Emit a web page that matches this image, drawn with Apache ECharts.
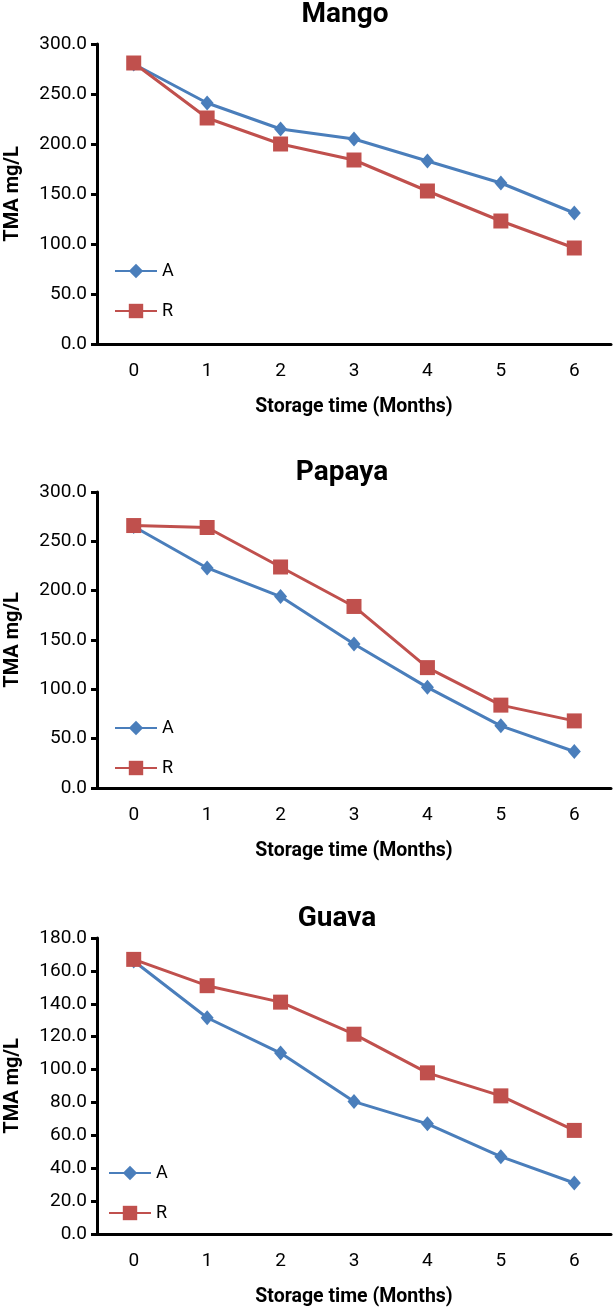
<!DOCTYPE html>
<html><head><meta charset="utf-8">
<script src="https://cdn.jsdelivr.net/npm/echarts@6/dist/echarts.min.js"></script>
<style>html,body{margin:0;padding:0;background:#fff}#c{width:614px;height:1309px}</style>
</head><body><div id="c"></div>
<script>
// ---- data ----
const months = ['0', '1', '2', '3', '4', '5', '6'];
const titles = ['Mango', 'Papaya', 'Guava'];
const seriesNames = ['A', 'R'];
const mangoA = [280, 241, 215, 205, 183, 161, 131];
const mangoR = [281, 226, 200, 184, 153, 123, 96];
const papayaA = [265, 223, 194, 146, 102, 63, 37];
const papayaR = [266, 264, 224, 184, 122, 84, 68];
const guavaA = [166, 131.5, 110, 80.5, 67, 47, 31];
const guavaR = [167, 151, 141, 121.5, 98, 84, 63];
const yMax = [300, 300, 180];
const yInterval = [50, 50, 20];
const xAxisName = 'Storage time (Months)';
const yAxisName = 'TMA mg/L';
const panels = [[mangoA, mangoR], [papayaA, papayaR], [guavaA, guavaR]];

// ---- layout ----
const gridTops = [44, 492, 938];
const gridHeights = [300, 296, 296];
const titleTops = [1, 459, 905];
const titleLefts = [345, 342, 337];
const legendTops = [262, 719, 1164];
const legendLefts = [114, 114, 108];
const FONT = 'Roboto, "Noto Sans", sans-serif';
const colA = '#4a7ebb', colR = '#c0504d';

const option = {
  backgroundColor: '#fff',
  animation: false,
  title: titles.map((t, i) => ({
    text: t, left: titleLefts[i], top: titleTops[i], textAlign: 'center', padding: 0,
    textStyle: { fontFamily: FONT, fontWeight: 'bold', fontSize: 28, lineHeight: 28, color: '#000' }
  })),
  legend: titles.map((t, i) => ({
    data: seriesNames, orient: 'vertical', left: legendLefts[i], top: legendTops[i],
    itemWidth: 42, itemHeight: 18, itemGap: 22, padding: 0,
    textStyle: { fontFamily: FONT, fontSize: 18, color: '#000' },
    selectedMode: false
  })),
  grid: titles.map((t, i) => ({
    left: 97, right: 3, top: gridTops[i], height: gridHeights[i],
    containLabel: false, outerBoundsMode: 'none'
  })),
  xAxis: titles.map((t, i) => ({
    gridIndex: i, type: 'category', data: months, boundaryGap: true,
    axisLine: { lineStyle: { color: '#000', width: 3 } },
    axisTick: { length: 7, lineStyle: { color: '#000', width: 3 } },
    splitLine: { show: false },
    axisLabel: { color: '#000', fontFamily: FONT, fontSize: 19, margin: 18 },
    name: xAxisName, nameLocation: 'middle', nameGap: 53,
    nameTextStyle: { fontFamily: FONT, fontWeight: 'bold', fontSize: 19.5, color: '#000' }
  })),
  yAxis: titles.map((t, i) => ({
    gridIndex: i, type: 'value', min: 0, max: yMax[i], interval: yInterval[i],
    axisLine: { show: true, lineStyle: { color: '#000', width: 3 } },
    axisTick: { show: true, length: 6, lineStyle: { color: '#000', width: 3 } },
    splitLine: { show: false },
    axisLabel: { color: '#000', fontFamily: FONT, fontSize: 19, margin: 10, formatter: v => v.toFixed(1) },
    name: yAxisName, nameLocation: 'middle', nameGap: 74, nameRotate: 90,
    nameTextStyle: { fontFamily: FONT, fontWeight: 'bold', fontSize: 20, color: '#000' }
  })),
  series: []
};

panels.forEach((p, i) => {
  option.series.push({
    name: seriesNames[0], type: 'line', xAxisIndex: i, yAxisIndex: i, data: p[0],
    symbol: 'diamond', symbolSize: [13, 15],
    lineStyle: { color: colA, width: 3 }, itemStyle: { color: colA }, z: 2
  });
  option.series.push({
    name: seriesNames[1], type: 'line', xAxisIndex: i, yAxisIndex: i, data: p[1],
    symbol: 'rect', symbolSize: 15,
    lineStyle: { color: colR, width: 3 }, itemStyle: { color: colR }, z: 3
  });
});

echarts.init(document.getElementById('c'), null, { renderer: 'canvas' }).setOption(option);
</script></body></html>
